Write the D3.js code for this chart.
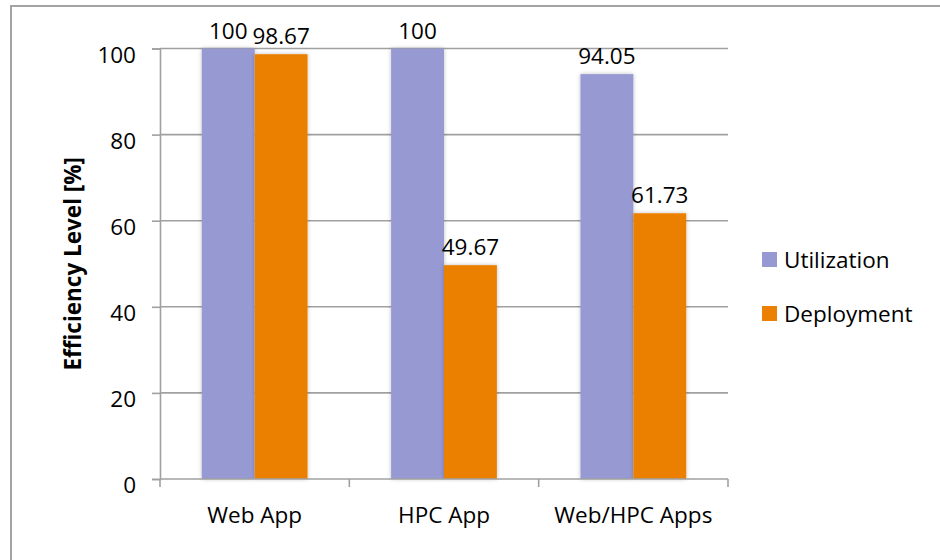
<!DOCTYPE html>
<html>
<head>
<meta charset="utf-8">
<script src="https://cdn.jsdelivr.net/npm/d3@7"></script>
<style>
  html, body { margin: 0; padding: 0; background: #fff; }
  svg { display: block; font-family: "Open Sans", "DejaVu Sans", sans-serif; }
</style>
</head>
<body>
<svg id="chart" width="940" height="560"></svg>
<script>
// Efficiency levels per workload type
const categories = ["Web App", "HPC App", "Web/HPC Apps"];
const seriesNames = ["Utilization", "Deployment"];
const utilization = [100, 100, 94.05];
const deployment = [98.67, 49.67, 61.73];
const yTicks = [0, 20, 40, 60, 80, 100];
const colors = ["#979ad2", "#eb8005"];

const seriesValues = [utilization, deployment];
const rows = categories.map((c, i) => ({
  category: c,
  values: seriesNames.map((s, k) => ({ series: s, k, value: seriesValues[k][i] }))
}));

const svg = d3.select("#chart");
const plot = { left: 160, right: 728, top: 48.5, bottom: 479 };
const fontSize = 22.5;

// chart frame
svg.append("rect")
  .attr("x", 11).attr("y", 6)
  .attr("width", 960).attr("height", 600)
  .attr("fill", "none").attr("stroke", "#a3a3a3").attr("stroke-width", 2);

const defs = svg.append("defs");
const shadow = defs.append("filter").attr("id", "barShadow")
  .attr("x", "-30%").attr("y", "-5%").attr("width", "160%").attr("height", "110%");
shadow.append("feGaussianBlur").attr("in", "SourceAlpha").attr("stdDeviation", 2).attr("result", "blur");
shadow.append("feComponentTransfer").attr("in", "blur").attr("result", "faded")
  .append("feFuncA").attr("type", "linear").attr("slope", 0.25);
const merge = shadow.append("feMerge");
merge.append("feMergeNode").attr("in", "faded");
merge.append("feMergeNode").attr("in", "SourceGraphic");

const y = d3.scaleLinear().domain([0, 100]).range([plot.bottom, plot.top]);
const x0 = d3.scaleBand().domain(categories).range([plot.left, plot.right]).padding(0);
const x1 = d3.scaleBand().domain(seriesNames).range([0, x0.bandwidth()])
  .paddingInner(0).paddingOuter(0.79);

// horizontal gridlines
svg.append("g")
  .selectAll("line")
  .data(yTicks.filter(t => t > 0))
  .join("line")
  .attr("x1", plot.left).attr("x2", plot.right)
  .attr("y1", d => y(d)).attr("y2", d => y(d))
  .attr("stroke", "#a0a0a0").attr("stroke-width", 1.6);

// bars
const groups = svg.append("g")
  .selectAll("g")
  .data(rows)
  .join("g")
  .attr("transform", d => `translate(${x0(d.category)},0)`);

groups.selectAll("rect")
  .data(d => d.values)
  .join("rect")
  .attr("x", d => x1(d.series))
  .attr("width", x1.bandwidth())
  .attr("y", d => y(d.value))
  .attr("height", d => y(0) - y(d.value))
  .attr("fill", d => colors[d.k])
  .attr("filter", "url(#barShadow)");

// value labels
groups.selectAll("text")
  .data(d => d.values)
  .join("text")
  .attr("x", d => x1(d.series) + x1.bandwidth() / 2)
  .attr("y", d => y(d.value) - 10)
  .attr("text-anchor", "middle")
  .attr("font-size", fontSize)
  .attr("fill", "#000")
  .text(d => d.value);

// y axis
const yAxis = svg.append("g")
  .attr("transform", `translate(${plot.left},0)`)
  .call(d3.axisLeft(y).tickValues(yTicks).tickSize(8).tickPadding(16).tickFormat(d3.format("d")));
yAxis.select(".domain").attr("stroke", "#a0a0a0").attr("stroke-width", 1.6);
yAxis.selectAll(".tick line").attr("stroke", "#a0a0a0").attr("stroke-width", 1.6);
yAxis.selectAll(".tick text")
  .attr("font-family", "Open Sans, sans-serif")
  .attr("font-size", fontSize).attr("fill", "#000")
  .attr("dy", "0.62em");

// x axis
const xAxis = svg.append("g")
  .attr("transform", `translate(0,${plot.bottom})`)
  .call(d3.axisBottom(x0).tickSize(0).tickPadding(28));
xAxis.select(".domain").remove();
xAxis.append("line")
  .attr("x1", plot.left).attr("x2", plot.right)
  .attr("stroke", "#a0a0a0").attr("stroke-width", 1.6);
xAxis.selectAll(".tick text")
  .attr("font-family", "Open Sans, sans-serif")
  .attr("font-size", fontSize).attr("fill", "#000");
// category boundary ticks
xAxis.append("g")
  .selectAll("line")
  .data(categories.map(c => x0(c)).concat([plot.right]))
  .join("line")
  .attr("x1", d => d).attr("x2", d => d)
  .attr("y1", 0).attr("y2", 8)
  .attr("stroke", "#a0a0a0").attr("stroke-width", 1.6);

// y axis title
svg.append("text")
  .attr("transform", `translate(81,${(plot.top + plot.bottom) / 2}) rotate(-90)`)
  .attr("text-anchor", "middle")
  .attr("font-size", 22.5)
  .attr("font-weight", "bold")
  .attr("fill", "#000")
  .text("Efficiency Level [%]");

// legend
const legend = svg.append("g")
  .selectAll("g")
  .data(seriesNames)
  .join("g")
  .attr("transform", (d, i) => `translate(762,${252 + i * 54})`);
legend.append("rect")
  .attr("width", 15).attr("height", 15)
  .attr("fill", (d, i) => colors[i]);
legend.append("text")
  .attr("x", 22).attr("y", 16)
  .attr("font-size", fontSize)
  .attr("fill", "#000")
  .text(d => d);
</script>
</body>
</html>
